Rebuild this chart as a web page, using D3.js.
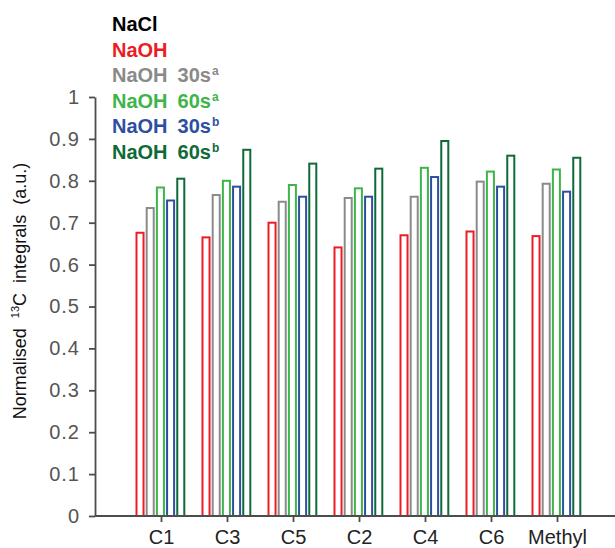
<!DOCTYPE html>
<html>
<head>
<meta charset="utf-8">
<script src="https://cdn.jsdelivr.net/npm/d3@7"></script>
<style>
  html, body { margin: 0; padding: 0; background: #fff; }
  svg { display: block; font-family: "Liberation Sans", Arial, Helvetica, sans-serif; }
</style>
</head>
<body>
<svg id="chart" width="615" height="548"></svg>
<script>
// Carbon positions along the x axis
const categories = ["C1", "C3", "C5", "C2", "C4", "C6", "Methyl"];

// Normalised 13C integrals for each treatment (NaCl is the reference, = 1)
const naoh     = [0.676, 0.665, 0.700, 0.641, 0.670, 0.679, 0.668];
const naoh30a  = [0.735, 0.766, 0.750, 0.759, 0.762, 0.798, 0.793];
const naoh60a  = [0.784, 0.800, 0.790, 0.782, 0.831, 0.822, 0.827];
const naoh30b  = [0.753, 0.786, 0.762, 0.762, 0.809, 0.786, 0.774];
const naoh60b  = [0.805, 0.874, 0.841, 0.829, 0.895, 0.860, 0.855];

// Legend entries: main label, time, superscript
const legendNames = ["NaCl", "NaOH", "NaOH", "NaOH", "NaOH", "NaOH"];
const legendTimes = ["", "", "30s", "60s", "30s", "60s"];
const legendSups  = ["", "", "a", "a", "b", "b"];
const legendColors = ["#000000", "#ed1c24", "#8a8a8a", "#3db54a", "#2d4fa3", "#0d6b37"];

const yTicks = [0, 0.1, 0.2, 0.3, 0.4, 0.5, 0.6, 0.7, 0.8, 0.9, 1];
const yTickLabels = ["0", "0.1", "0.2", "0.3", "0.4", "0.5", "0.6", "0.7", "0.8", "0.9", "1"];

const seriesKeys = ["naoh", "naoh30a", "naoh60a", "naoh30b", "naoh60b"];
const seriesValues = [naoh, naoh30a, naoh60a, naoh30b, naoh60b];
const seriesColors = legendColors.slice(1);

const svg = d3.select("#chart");
const axisColor = "#4d4d4d";

const y = d3.scaleLinear().domain([0, 1]).range([516, 97]);
const x = d3.scalePoint().domain(categories).range([95, 623]).padding(1);
const xs = d3.scaleBand().domain(seriesKeys).range([-24.5, 23.3]).paddingInner(0.31).paddingOuter(0);

// Bars (outlined, white fill)
const groups = svg.append("g").selectAll("g")
  .data(categories)
  .join("g")
  .attr("transform", d => `translate(${x(d)},0)`);

groups.selectAll("rect")
  .data((c, i) => seriesKeys.map((k, s) => ({ key: k, value: seriesValues[s][i], color: seriesColors[s] })))
  .join("rect")
  .attr("x", d => xs(d.key))
  .attr("width", xs.bandwidth())
  .attr("y", d => y(d.value))
  .attr("height", d => y(0) - y(d.value))
  .attr("fill", "#fff")
  .attr("stroke", d => d.color)
  .attr("stroke-width", 2);

// Y axis
const yAxis = svg.append("g")
  .attr("transform", "translate(95,0)")
  .call(d3.axisLeft(y).tickValues(yTicks)
    .tickFormat((d, i) => yTickLabels[i])
    .tickSizeInner(6).tickSizeOuter(0).tickPadding(9));
yAxis.select(".domain").attr("stroke", axisColor).attr("stroke-width", 1.8);
yAxis.selectAll(".tick line").attr("stroke", axisColor).attr("stroke-width", 1.8);
yAxis.selectAll(".tick text")
  .attr("fill", "#555")
  .style("font-size", "20px")
  .style("letter-spacing", "1px")
  .style("font-family", "'Liberation Sans', Arial, sans-serif");

// X axis
const xAxis = svg.append("g")
  .attr("transform", `translate(0,${y(0)})`)
  .call(d3.axisBottom(x).tickSizeInner(6).tickSizeOuter(0).tickPadding(8));
xAxis.select(".domain").attr("d", "M95,0H615").attr("stroke", axisColor).attr("stroke-width", 1.8);
xAxis.selectAll(".tick line").attr("stroke", axisColor).attr("stroke-width", 1.8);
xAxis.selectAll(".tick text")
  .attr("fill", "#222")
  .style("font-size", "20px")
  .style("font-family", "'Liberation Sans', Arial, sans-serif");

// Y axis title
const yTitle = svg.append("text")
  .attr("transform", "translate(26,291) rotate(-90)")
  .attr("text-anchor", "middle")
  .attr("fill", "#111")
  .style("font-size", "18px")
  .style("white-space", "pre");
yTitle.append("tspan").text("Normalised  ");
yTitle.append("tspan").text("13").style("font-size", "11px").attr("dy", -7);
yTitle.append("tspan").text("C  integrals  (a.u.)").attr("dy", 7);

// Legend
const legend = svg.append("g").attr("transform", "translate(112,0)");
legendNames.forEach((name, i) => {
  const t = legend.append("text")
    .attr("x", 0)
    .attr("y", 31 + i * 25.5)
    .attr("fill", legendColors[i])
    .style("font-size", "20px")
    .style("font-weight", "bold");
  t.append("tspan").text(name);
  if (legendTimes[i]) {
    t.append("tspan").attr("dx", 10).text(legendTimes[i]);
    t.append("tspan").attr("dx", 1).attr("dy", -7)
      .style("font-size", "12px").text(legendSups[i]);
  }
});
</script>
</body>
</html>
